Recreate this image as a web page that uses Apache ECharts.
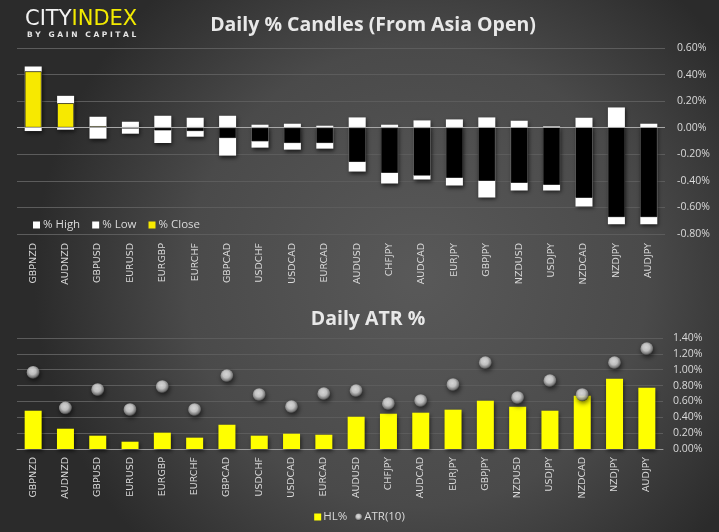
<!DOCTYPE html>
<html><head><meta charset="utf-8">
<script src="https://cdn.jsdelivr.net/npm/echarts@6/dist/echarts.min.js"></script>
<style>html,body{margin:0;padding:0;background:#333;}#c{width:719px;height:532px;}</style>
</head><body><div id="c"></div>
<script>
const categories = ['GBPNZD','AUDNZD','GBPUSD','EURUSD','EURGBP','EURCHF','GBPCAD','USDCHF','USDCAD','EURCAD','AUDUSD','CHFJPY','AUDCAD','EURJPY','GBPJPY','NZDUSD','USDJPY','NZDCAD','NZDJPY','AUDJPY'];
const highPct  = [0.46,0.24,0.0825,0.045,0.09,0.075,0.09,0.0225,0.03,0.015,0.0775,0.0225,0.055,0.0625,0.0775,0.0525,0.01,0.075,0.1525,0.03];
const lowPct   = [-0.025,-0.015,-0.0825,-0.045,-0.115,-0.0675,-0.21,-0.15,-0.165,-0.1575,-0.33,-0.42,-0.39,-0.435,-0.525,-0.4725,-0.4725,-0.5925,-0.7275,-0.7275];
const closePct = [0.425,0.185,0.01,-0.003,-0.02,-0.025,-0.0775,-0.1025,-0.115,-0.115,-0.2575,-0.34,-0.36,-0.3775,-0.40,-0.415,-0.43,-0.5275,-0.6725,-0.6725];
const hlPct  = [0.483,0.256,0.168,0.092,0.206,0.143,0.306,0.168,0.193,0.18,0.407,0.445,0.458,0.496,0.609,0.533,0.483,0.672,0.887,0.773];
const atrPct = [0.966,0.517,0.748,0.496,0.786,0.496,0.924,0.685,0.533,0.697,0.735,0.571,0.609,0.811,1.088,0.647,0.861,0.685,1.088,1.264];
const topTicks = {min:-0.8, max:0.6, interval:0.2};
const botTicks = {min:0, max:1.4, interval:0.2};

const chart = echarts.init(document.getElementById('c'));
const txt = '#d9d9d9';
const gridLine = {show:true, lineStyle:{color:'#5c5c5c', width:1}};
const pct = v => v.toFixed(2) + '%';
const shadow = {shadowBlur:4, shadowColor:'rgba(0,0,0,0.65)', shadowOffsetX:1, shadowOffsetY:2};
const sphere = {type:'radial', x:0.45, y:0.4, r:0.6, colorStops:[
  {offset:0, color:'#ffffff'},{offset:0.45, color:'#e6e6e6'},{offset:0.8, color:'#8c8c8c'},{offset:1, color:'#2e2e2e'}]};

const option = {
  animation:false,
  graphic:[
    {type:'rect', z:-10, silent:true, shape:{x:0,y:0,width:719,height:532},
     style:{fill:{type:'radial', x:0.58, y:0.52, r:0.72, colorStops:[{offset:0,color:'#595959'},{offset:0.6,color:'#4a4a4a'},{offset:1,color:'#2b2b2b'}]}}},
    {type:'text', left:25, top:9, style:{text:'{a|CITY}{b|INDEX}', rich:{
      a:{fill:'#f2f2f2', font:'21px "DejaVu Sans"'}, b:{fill:'#f2ea00', font:'21px "DejaVu Sans"'}}}},
    {type:'text', left:27, top:31, style:{text:'B Y   G A I N   C A P I T A L', fill:'#e6e6e6', font:'bold 7.5px "DejaVu Sans"'}},
    {type:'text', x:373, y:15, style:{text:'Daily % Candles (From Asia Open)', fill:'#e8e8e8', font:'bold 19.5px "Open Sans"', align:'center', textAlign:'center'}},
    {type:'text', x:368, y:309, style:{text:'Daily ATR %', fill:'#e8e8e8', font:'bold 19.5px "Open Sans"', align:'center', textAlign:'center'}}
  ],
  legend:[
    {left:28, top:214, itemWidth:7, itemHeight:7, itemGap:12, icon:'rect',
     itemStyle:{borderWidth:0},
     textStyle:{color:txt, fontSize:11.5, fontFamily:'Open Sans', padding:[0,0,0,-2]},
     data:['% High','% Low','% Close']},
    {left:'center', top:506, itemWidth:7, itemHeight:7, itemGap:8,
     textStyle:{color:txt, fontSize:11.5, fontFamily:'Open Sans', padding:[0,0,0,-3]},
     data:[{name:'HL%', icon:'rect'},{name:'ATR(10)', icon:'circle'}]}
  ],
  grid:[
    {left:17, right:54, top:48, height:186},
    {left:17, right:56, top:338, height:111}
  ],
  xAxis:[
    {type:'category', gridIndex:0, data:categories, axisLine:{show:false}, axisTick:{show:false},
     axisLabel:{rotate:90, color:txt, fontSize:9.5, fontFamily:'DejaVu Sans', margin:9, interval:0}},
    {type:'category', gridIndex:1, data:categories, axisLine:{show:true, lineStyle:{color:'#9a9a9a'}}, axisTick:{show:false},
     axisLabel:{rotate:90, color:txt, fontSize:9.5, fontFamily:'DejaVu Sans', margin:8, interval:0}}
  ],
  yAxis:[
    {type:'value', gridIndex:0, position:'right', min:topTicks.min, max:topTicks.max, interval:topTicks.interval,
     splitLine:gridLine, axisLine:{show:false}, axisTick:{show:false},
     axisLabel:{color:txt, fontSize:10.5, fontFamily:'Open Sans', margin:12, formatter:pct}},
    {type:'value', gridIndex:1, position:'right', min:botTicks.min, max:botTicks.max, interval:botTicks.interval,
     splitLine:gridLine, axisLine:{show:false}, axisTick:{show:false},
     axisLabel:{color:txt, fontSize:10.5, fontFamily:'Open Sans', margin:10, formatter:pct}}
  ],
  series:[
    {name:'% High', type:'bar', xAxisIndex:0, yAxisIndex:0, data:highPct, barWidth:17, barGap:'-100%',
     itemStyle:Object.assign({color:'#ffffff'}, shadow)},
    {name:'% Low', type:'bar', xAxisIndex:0, yAxisIndex:0, data:lowPct, barWidth:17, barGap:'-100%',
     itemStyle:Object.assign({color:'#ffffff'}, shadow)},
    {name:'% Close', type:'bar', xAxisIndex:0, yAxisIndex:0, barWidth:17, barGap:'-100%', z:3,
     data:closePct.map(v => ({value:v, itemStyle:{color: v >= 0 ? '#f7e900' : '#000000'}})),
     itemStyle:{color:'#f7e900', borderColor:'rgba(0,0,0,0.85)', borderWidth:0.8},
     markLine:{silent:true, symbol:'none', label:{show:false}, z:5,
       lineStyle:{color:'#a8a8a8', width:1, type:'solid'}, data:[{yAxis:0}]}},
    {name:'HL%', type:'bar', xAxisIndex:1, yAxisIndex:1, data:hlPct, barWidth:17,
     itemStyle:Object.assign({color:'#ffff00'}, shadow)},
    {name:'ATR(10)', type:'scatter', xAxisIndex:1, yAxisIndex:1, data:atrPct, symbolSize:13, z:4,
     itemStyle:{color:sphere, shadowBlur:5, shadowColor:'rgba(0,0,0,0.75)', shadowOffsetX:1, shadowOffsetY:2}}
  ]
};
chart.setOption(option);
</script></body></html>
